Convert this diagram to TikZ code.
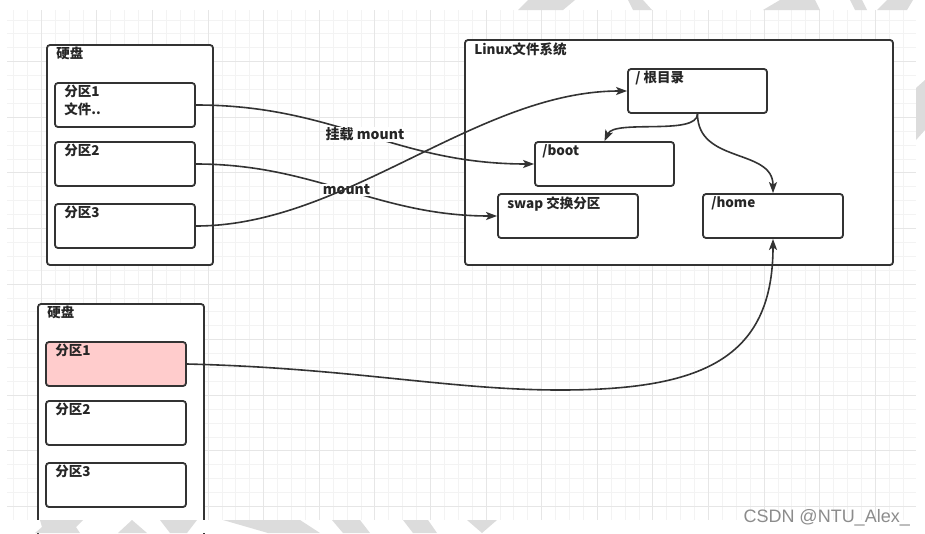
\documentclass[tikz,border=0pt]{standalone}
\usepackage{fontspec}
\setmainfont{Noto Sans CJK SC}
\newfontfamily\wmfont{Liberation Sans}
\usetikzlibrary{arrows.meta}
\definecolor{ln}{HTML}{333333}
\definecolor{wm}{HTML}{DCDCDC}
\definecolor{gmin}{HTML}{F3F3F3}
\definecolor{gmaj}{HTML}{E6E6E6}
\definecolor{pinkfill}{HTML}{FFCCCC}
\begin{document}
\begin{tikzpicture}[x=1pt,y=-1pt,
  box/.style={draw=ln, line width=1.8pt, rounded corners=3pt, fill=white, inner sep=0pt},
  lbl/.style={anchor=north west, inner sep=0pt, align=left, text=black!85,
    font=\fontsize{13.5}{18}\selectfont\bfseries},
  elbl/.style={fill=white, inner sep=1pt, text=black!85,
    font=\fontsize{14}{16}\selectfont\bfseries},
  conn/.style={draw=ln, line width=1.6pt, -{Stealth[length=11pt,width=8pt,inset=2.5pt]}},
  wmshape/.style={fill=wm, draw=none}]
\useasboundingbox (0,0) rectangle (925,533);
\fill[white] (0,0) rectangle (925,533);
% grid
\foreach \i in {0,...,64} \draw[gmin, line width=0.7pt] ({13.4+13.9*\i},10) -- ({13.4+13.9*\i},520);
\foreach \i in {0,...,35} \draw[gmin, line width=0.7pt] (7,{19.9+13.9*\i}) -- (916,{19.9+13.9*\i});
\foreach \i in {0,...,15} \draw[gmaj, line width=0.8pt] ({41.2+55.6*\i},10) -- ({41.2+55.6*\i},520);
\foreach \i in {0,...,8} \draw[gmaj, line width=0.8pt] (7,{61.6+55.6*\i}) -- (916,{61.6+55.6*\i});

% first disk
\node[box, minimum width=166pt, minimum height=220pt] (d1) at (130,155) {};
\node[lbl] (d1t) at ([shift={(10pt,-3pt)}]d1.north west) {硬盘};
\node[box, minimum width=140pt, minimum height=44pt] (p1) at (125,105) {};
\node[lbl] (p1t) at ([shift={(10pt,-3pt)}]p1.north west) {分区1\\文件..};
\node[box, minimum width=140pt, minimum height=44pt] (p2) at (125,164) {};
\node[lbl] (p2t) at ([shift={(10pt,-3pt)}]p2.north west) {分区2};
\node[box, minimum width=140pt, minimum height=44pt] (p3) at (125,226) {};
\node[lbl] (p3t) at ([shift={(10pt,-3pt)}]p3.north west) {分区3};

% linux file system
\node[box, minimum width=428pt, minimum height=225pt] (lx) at (679,152.5) {};
\node[lbl] (lxt) at ([shift={(10pt,-3pt)}]lx.north west) {Linux文件系统};
\node[box, minimum width=139pt, minimum height=44pt] (root) at (697.5,91) {};
\node[lbl] (roott) at ([shift={(8pt,-3pt)}]root.north west) {/ 根目录};
\node[box, minimum width=139pt, minimum height=44pt] (boot) at (604.5,164) {};
\node[lbl] (boott) at ([shift={(8pt,-3pt)}]boot.north west) {/boot};
\node[box, minimum width=140pt, minimum height=44pt] (swap) at (568,216) {};
\node[lbl] (swapt) at ([shift={(10pt,-3pt)}]swap.north west) {swap 交换分区};
\node[box, minimum width=140pt, minimum height=44pt] (home) at (773,216) {};
\node[lbl] (homet) at ([shift={(9pt,-3pt)}]home.north west) {/home};

% second disk
\node[box, minimum width=166pt, minimum height=240pt] (d2) at (121,424) {};
\node[lbl] (d2t) at ([shift={(10pt,-3pt)}]d2.north west) {硬盘};
\node[box, fill=pinkfill, minimum width=140pt, minimum height=44pt] (q1) at (116,364) {};
\node[lbl] (q1t) at ([shift={(10pt,-3pt)}]q1.north west) {分区1};
\node[box, minimum width=140pt, minimum height=44pt] (q2) at (116,423) {};
\node[lbl] (q2t) at ([shift={(10pt,-3pt)}]q2.north west) {分区2};
\node[box, minimum width=140pt, minimum height=44pt] (q3) at (116,485) {};
\node[lbl] (q3t) at ([shift={(10pt,-3pt)}]q3.north west) {分区3};

% connectors
\draw[conn] (p1.east) .. controls +(140,0) and +(-140,0) .. node[elbl, pos=0.5] (l1) {挂载 mount} (boot.west);
\draw[conn] (p2.east) .. controls +(120,0) and +(-120,0) .. node[elbl, pos=0.5] (l2) {mount} (swap.west);
\draw[conn] (p3.east) .. controls +(150,0) and +(-150,0) .. (root.west);
\draw[conn] (root.south) .. controls +(0,22) and +(10,-22) .. (boot.north);
\draw[conn] (root.south) .. controls +(0,50) and +(0,-45) .. (home.north);
\draw[conn] (q1.east) .. controls (350,368) and (450,390) .. (560,390) .. controls (700,390) and (773,360) .. (home.south);

% white margins with grey watermark shapes
\fill[white] (0,0) rectangle (925,10);
\fill[white] (0,520) rectangle (925,533);
\fill[white] (916,0) rectangle (925,533);
\fill[white] (0,0) rectangle (7,533);
% top band
\fill[wmshape] (528,0) -- (575,0) -- (563,10) -- (518,10) -- cycle;
\fill[wmshape] (628,0) -- (643,0) -- (652,10) -- (633,10) -- cycle;
\fill[wmshape] (780,0) -- (815,0) -- (820,10) -- (763,10) -- cycle;
\fill[wmshape] (850,0) -- (862,0) -- (867,10) -- (855,10) -- cycle;
\fill[wmshape] (887,0) -- (913,0) -- (907,10) -- (877,10) -- cycle;
% right side
\fill[wmshape] (916,88) -- (925,80) -- (925,130) -- (916,140) -- cycle;
% bottom band
\fill[wmshape] (40,520) -- (83,520) -- (76,527) -- (80,533) -- (35,533) -- (42,527) -- cycle;
\fill[wmshape] (132,520) -- (147,533) -- (118,533) -- cycle;
\fill[wmshape] (160,520) -- (197,520) -- (187,533) -- (170,533) -- cycle;
\fill[wmshape] (223,520) -- (300,520) -- (320,533) -- (300,533) -- (268,533) -- cycle;
\fill[wmshape] (332,520) -- (360,520) -- (370,533) -- (343,533) -- cycle;
\fill[wmshape] (403,520) -- (428,520) -- (437,533) -- (413,533) -- cycle;
\fill[wmshape] (467,520) -- (497,520) -- (482,533) -- cycle;

\node[anchor=base east, inner sep=0pt, text=black!45, font=\wmfont\fontsize{18}{20}\selectfont] (wmtext) at (910,522) {CSDN @NTU\_Alex\_};
\end{tikzpicture}
\end{document}
